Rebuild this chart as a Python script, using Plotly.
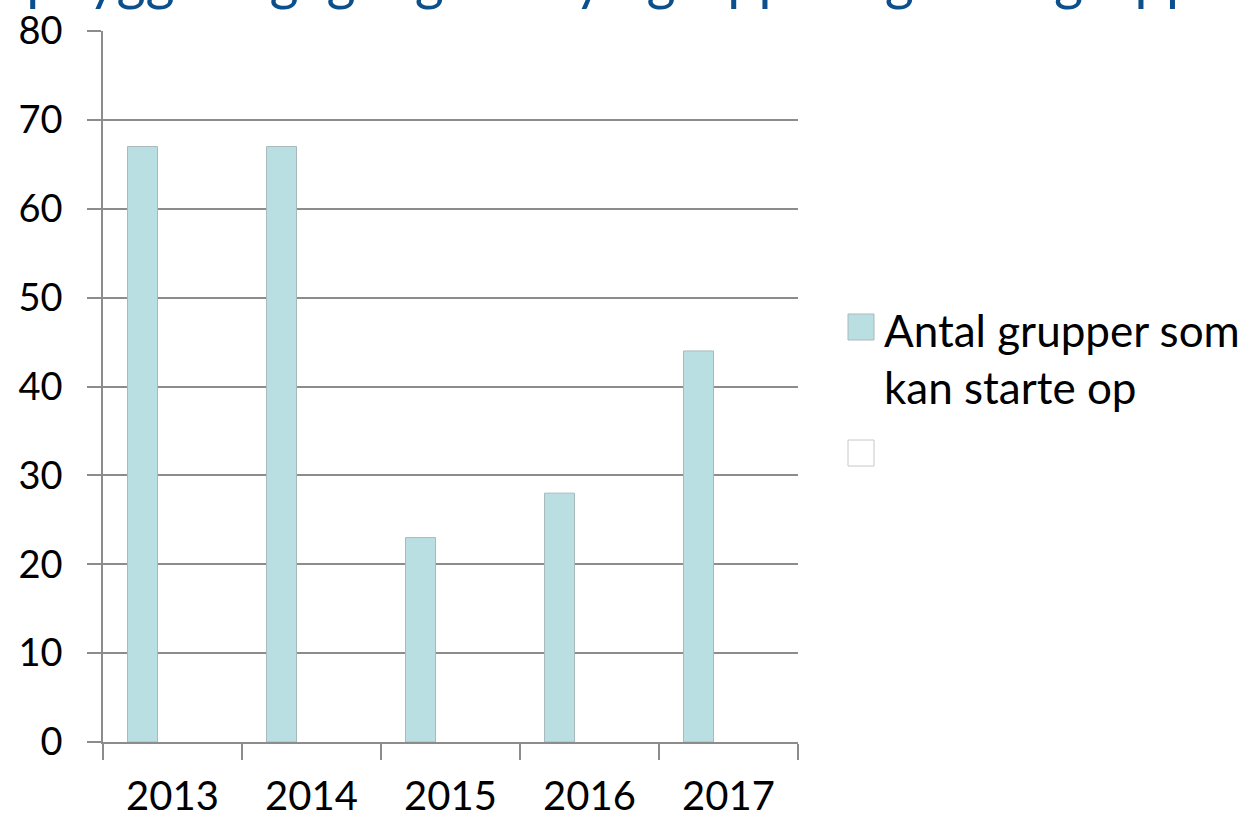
import plotly.graph_objects as go

years = ["2013", "2014", "2015", "2016", "2017"]
antal_grupper = [67, 67, 23, 28, 44]
serie2 = [None, None, None, None, None]
serie3 = [None, None, None, None, None]

legend_label = "Antal grupper som<br>kan starte op"
title_text = "Opbygget og igangsat: nye grupper og flere grupper"

font = "Lato"
grid = "#8c8c8c"

fig = go.Figure()
fig.add_trace(go.Bar(x=years, y=antal_grupper, name="Antal grupper som kan starte op",
                     marker=dict(color="#badfe3", line=dict(color="#a9b9bb", width=1))))
fig.add_trace(go.Bar(x=years, y=serie2, name=" ", marker=dict(color="white")))
fig.add_trace(go.Bar(x=years, y=serie3, name="  ", marker=dict(color="white")))

fig.update_layout(
    width=1253, height=820,
    margin=dict(l=103, r=455, t=31, b=78),
    paper_bgcolor="white", plot_bgcolor="white",
    barmode="group", bargap=0.353, bargroupgap=0,
    showlegend=False,
    font=dict(family=font, color="black"),
)
fig.update_xaxes(
    type="category", showline=True, linecolor=grid, linewidth=1.5,
    ticks="outside", tickson="boundaries", ticklen=16, tickcolor=grid, tickwidth=1.5,
    tickfont=dict(size=40, family=font), ticklabelstandoff=18,
    showgrid=False, automargin=False,
)
fig.update_yaxes(
    range=[0, 80], dtick=10,
    showline=True, linecolor=grid, linewidth=1.5,
    ticks="outside", ticklen=14, tickcolor=grid, tickwidth=2,
    showgrid=True, gridcolor=grid, gridwidth=2,
    tickfont=dict(size=38, family=font), ticklabelstandoff=17,
    zeroline=False, automargin=False,
)

# legend drawn by hand to get the large swatches
fig.add_shape(type="rect", xref="paper", yref="paper",
              x0=(848 - 103) / 695, x1=(874 - 103) / 695,
              y0=(742 - 340) / 711, y1=(742 - 314) / 711,
              fillcolor="#badfe3", line=dict(color="#a9b9bb", width=1))
fig.add_shape(type="rect", xref="paper", yref="paper",
              x0=(848 - 103) / 695, x1=(874 - 103) / 695,
              y0=(742 - 466) / 711, y1=(742 - 440) / 711,
              fillcolor="white", line=dict(color="#c8c8c8", width=1))
fig.add_annotation(xref="paper", yref="paper",
                   x=(882 - 103) / 695, y=(742 - 302) / 711,
                   xanchor="left", yanchor="top", align="left",
                   text=legend_label, showarrow=False,
                   font=dict(size=44, family=font, color="black"))

# slide title, mostly cut off at the top of the picture
fig.add_annotation(xref="paper", yref="paper",
                   x=(-20 - 103) / 695, y=1.026,
                   xanchor="left", yanchor="bottom",
                   text=title_text, showarrow=False,
                   font=dict(size=56, family=font, color="#0b4f8c"))

# drop the default body margin so the figure sits at the page corner
fig.write_html("out.html", config={"displayModeBar": False},
               post_script="document.body.style.margin='0';")
